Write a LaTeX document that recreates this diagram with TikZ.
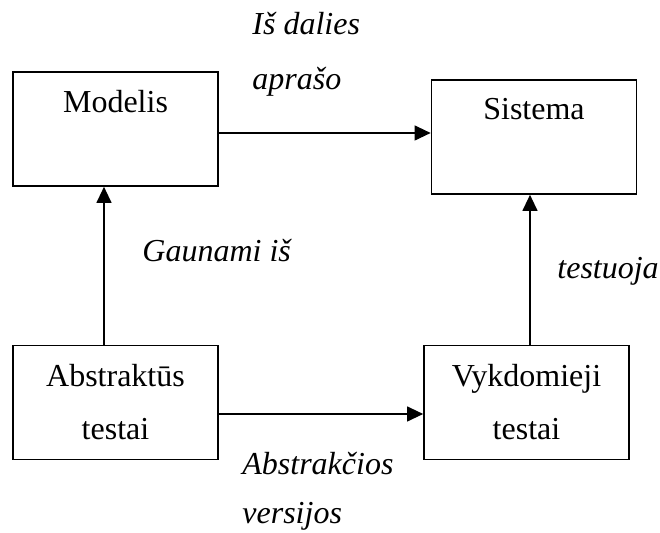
\documentclass[tikz,border=0pt]{standalone}
\usepackage{fontspec}
\setmainfont{Liberation Serif}
\usetikzlibrary{arrows.meta}
\tikzset{
    box/.style={draw, line width=0.85pt, minimum width=102.5pt, minimum height=57pt, inner sep=0pt},
    boxtext/.style={anchor=north, align=center, inner sep=0pt, font=\fontsize{16}{26.5}\selectfont},
    arr/.style={line width=0.6pt, -{Triangle[length=8pt,width=7.5pt]}},
    note/.style={anchor=base west, inner sep=0pt, font=\fontsize{16}{20}\selectfont\itshape}
}
\begin{document}
\begin{tikzpicture}[x=0.5pt,y=-0.5pt]
        \useasboundingbox (0,0) rectangle (660,533);
        \foreach \name/\x/\y/\txt in {modelis/115.5/129/Modelis, sistema/534/137/Sistema,
            abstr/115.5/402.5/{Abstraktūs\\testai}, vykd/526.5/402.5/{Vykdomieji\\testai}} {
                \node[box] (\name) at (\x,\y) {};
                \node[boxtext] (\name-t) at ([yshift=-9.5pt]\name.north) {\txt};
            }
        % labels of the arrows
        \foreach \x/\y/\txt [count=\i] in {252/35/Iš dalies, 252/90/aprašo, 142/262/Gaunami iš,
            557/279/testuoja, 242/475/Abstrakčios, 242/524/versijos} {
                \node[note] (note\i) at (\x,\y) {\txt};
            }
        \draw[arr] ([yshift=-2pt]modelis.east) -- ([yshift=-2pt]modelis.east -| sistema.west);
        \draw[arr] ([xshift=-5.75pt]abstr.north) -- ([xshift=-5.75pt]abstr.north |- modelis.south);
        \draw[arr] ([yshift=-5.75pt]abstr.east) -- ([yshift=-5.75pt]abstr.east -| vykd.west);
        \draw[arr] ([xshift=1.75pt]vykd.north) -- ([xshift=1.75pt]vykd.north |- sistema.south);
    \end{tikzpicture}
\end{document}
